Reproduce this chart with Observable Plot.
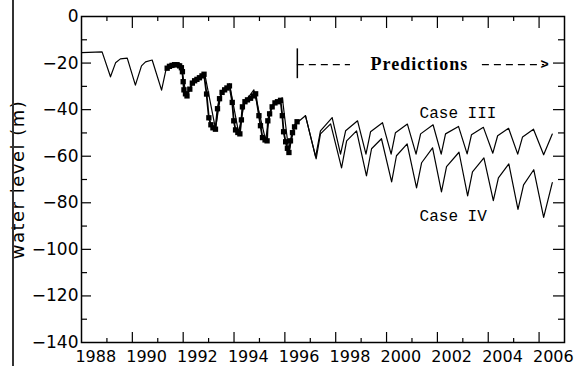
<!DOCTYPE html>
<html><head><meta charset="utf-8">
<script src="https://cdn.jsdelivr.net/npm/d3@7"></script>
<script src="https://cdn.jsdelivr.net/npm/@observablehq/plot@0.6"></script>
<style>
body{margin:0;background:#fff;}
#wrap{position:relative;width:574px;height:366px;overflow:hidden;}
#scanline{position:absolute;left:12px;top:0;width:2px;height:366px;background:#333;}
</style></head><body>
<div id="wrap"><div id="chart"></div><div id="scanline"></div></div>
<script>
// simulated history (shared by both cases until predictions start)
const simYears = [1987.40, 1988.21, 1988.54, 1988.74, 1988.93, 1989.20, 1989.52, 1989.76, 1989.92, 1990.18, 1990.55, 1990.74, 1990.90, 1991.29, 1991.53, 1991.77, 1992.24, 1992.67, 1992.87, 1993.22, 1993.58, 1993.81, 1994.18, 1994.64, 1994.87, 1995.30, 1995.56, 1995.78, 1996.21];
const simLevels = [-15.5, -15.2, -25.9, -19.9, -18.2, -17.9, -29.5, -21.2, -19.5, -18.7, -31.6, -22.0, -20.7, -20.3, -34.1, -28.5, -24.2, -48.2, -34.1, -28.9, -49.9, -37.1, -31.5, -53.0, -38.4, -34.9, -58.4, -46.5, -42.6];

// observed water levels (squares)
const obsYears = [1990.77, 1990.86, 1990.96, 1991.06, 1991.16, 1991.26, 1991.33, 1991.37, 1991.40, 1991.43,
  1991.49, 1991.55, 1991.66, 1991.76, 1991.85, 1991.94, 1992.04, 1992.14, 1992.22, 1992.32,
  1992.41, 1992.49, 1992.57, 1992.67, 1992.75, 1992.83, 1992.93, 1993.03, 1993.12, 1993.22,
  1993.33, 1993.39, 1993.46, 1993.55, 1993.63, 1993.69, 1993.73, 1993.83, 1993.93, 1994.05,
  1994.17, 1994.25, 1994.38, 1994.44, 1994.52, 1994.62, 1994.70, 1994.73, 1994.80, 1994.90,
  1995.01, 1995.11, 1995.23, 1995.30, 1995.35, 1995.43, 1995.50, 1995.56, 1995.62, 1995.70,
  1995.78, 1995.88];
const obsLevels = [-22.2, -21.4, -21.0, -20.7, -20.7, -21.2, -22.0, -23.7, -28.0, -31.5,
  -33.2, -34.1, -31.2, -28.6, -27.6, -27.0, -26.3, -25.5, -24.8, -33.3,
  -43.5, -46.5, -47.8, -48.4, -39.6, -35.3, -32.6, -31.5, -30.7, -29.8,
  -36.9, -44.8, -48.7, -49.8, -50.4, -44.4, -38.8, -36.6, -35.8, -35.1,
  -34.1, -33.2, -42.6, -46.9, -52.0, -53.0, -53.4, -44.8, -41.8, -38.8,
  -37.1, -36.6, -36.0, -42.6, -49.5, -53.8, -56.6, -58.4, -53.4, -49.9,
  -47.4, -45.2];

// predictions
const case3Years = [1996.21, 1996.61, 1996.80, 1997.26, 1997.59, 1997.79, 1998.26, 1998.59, 1998.77, 1999.24, 1999.58, 1999.75, 2000.22, 2000.56, 2000.74, 2001.23, 2001.55, 2001.72, 2002.23, 2002.57, 2002.74, 2003.21, 2003.58, 2003.77, 2004.20, 2004.56, 2004.75, 2005.18, 2005.58, 2005.92];
const case3Levels = [-42.6, -60.3, -49.1, -43.4, -59.1, -49.1, -44.8, -59.1, -49.5, -45.6, -59.1, -49.9, -46.2, -59.1, -50.4, -46.5, -59.1, -50.4, -47.2, -59.0, -50.8, -47.6, -58.7, -51.2, -48.0, -59.1, -51.7, -48.4, -59.4, -50.5];
const case4Years = [1996.21, 1996.63, 1996.80, 1997.20, 1997.63, 1997.83, 1998.22, 1998.61, 1998.81, 1999.20, 1999.60, 1999.79, 2000.21, 2000.58, 2000.78, 2001.21, 2001.56, 2001.76, 2002.25, 2002.59, 2002.78, 2003.23, 2003.60, 2003.80, 2004.21, 2004.57, 2004.79, 2005.19, 2005.58, 2005.92];
const case4Levels = [-42.6, -61.1, -50.4, -46.1, -65.0, -53.4, -49.1, -68.4, -56.8, -52.5, -71.0, -59.8, -54.7, -73.6, -62.8, -56.4, -75.3, -64.5, -58.3, -77.0, -66.7, -60.7, -79.1, -69.3, -63.3, -82.8, -72.3, -65.8, -86.3, -71.3];

// axes
const xTickLabels = [1988, 1990, 1992, 1994, 1996, 1998, 2000, 2002, 2004, 2006];
const xTickYears = d3.range(1988, 2006);
const xTickShift = 0.4;
const yTickLabels = [0, -20, -40, -60, -80, -100, -120, -140];
const yTickValues = d3.range(-140, 1, 10);

// annotation anchors
const predStart = 1995.89, annotLevel = -20.7, barTop = -13.9, barBottom = -26.7;
const leftDashEnd = 1997.98, predTextYear = 1998.77, rightDashStart = 2003.17, arrowYear = 2005.62;
const caseTextYear = 2000.7, case3TextLevel = -41.3, case4TextLevel = -85.6;

const zip = (xs, ys) => xs.map((x, i) => ({x, y: ys[i]}));
const sim = zip(simYears, simLevels);
const obs = zip(obsYears, obsLevels);
const c3 = zip(case3Years, case3Levels);
const c4 = zip(case4Years, case4Levels);

const W = 574, H = 366, mL = 81, mR = 10, mT = 16, mB = 24;
const fw = W - mL - mR, fh = H - mT - mB;
const majX = xTickYears.filter(d => d % 2 === 1).map(d => d + xTickShift);
const minX = xTickYears.filter(d => d % 2 === 0).map(d => d + xTickShift);
const majY = yTickValues.filter(d => d % 20 === 0 && d > -140 && d < 0);
const minY = yTickValues.filter(d => d % 20 !== 0);
const numFont = "DejaVu Sans";

const chart = Plot.plot({
  width: W, height: H,
  marginLeft: mL, marginRight: mR, marginTop: mT, marginBottom: mB,
  x: {domain: [1987.4, 2006.4], axis: null},
  y: {domain: [-140, 0], axis: null},
  style: {background: "white", color: "black", overflow: "visible"},
  marks: [
    // ticks
    Plot.tickX(majX, {x: d => d, insetTop: fh - 10, strokeWidth: 1.2}),
    Plot.tickX(minX, {x: d => d, insetTop: fh - 4, strokeWidth: 1.2}),
    Plot.tickX(majX, {x: d => d, insetBottom: fh - 12, strokeWidth: 1.2}),
    Plot.tickX(minX, {x: d => d, insetBottom: fh - 5, strokeWidth: 1.2}),
    Plot.tickY(majY, {y: d => d, insetRight: fw - 10, strokeWidth: 1.2}),
    Plot.tickY(minY, {y: d => d, insetRight: fw - 6, strokeWidth: 1.2}),
    Plot.tickY(majY, {y: d => d, insetLeft: fw - 11, strokeWidth: 1.2}),
    Plot.tickY(minY, {y: d => d, insetLeft: fw - 6, strokeWidth: 1.2}),
    Plot.frame({stroke: "black", strokeWidth: 1.5}),
    // tick labels
    Plot.text(xTickLabels, {x: d => d, text: d => String(d), frameAnchor: "bottom", lineAnchor: "middle", dy: 14, dx: -1, fontSize: 16, fontFamily: numFont, fill: "black"}),
    Plot.text(yTickLabels, {y: d => d, frameAnchor: "left", dx: -3, textAnchor: "end", lineAnchor: "middle", fontSize: 17, fontFamily: numFont, fill: "black",
      text: d => d === 0 ? "0" : "\u2212" + (-d)}),
    Plot.text(["water level (m)"], {frameAnchor: "left", textAnchor: "middle", lineAnchor: "middle", dx: -63, rotate: -90, fontSize: 18, fontFamily: numFont, fill: "black"}),
    // series
    Plot.line(sim, {x: "x", y: "y", stroke: "black", strokeWidth: 1.2}),
    Plot.line(c3, {x: "x", y: "y", stroke: "black", strokeWidth: 1.2}),
    Plot.line(c4, {x: "x", y: "y", stroke: "black", strokeWidth: 1.2}),
    Plot.line(obs, {x: "x", y: "y", stroke: "black", strokeWidth: 1.8}),
    Plot.dot(obs, {x: "x", y: "y", symbol: "square", r: 3, fill: "black", stroke: "none"}),
    // annotations
    Plot.ruleX([predStart], {y1: barTop, y2: barBottom, stroke: "black", strokeWidth: 1.5}),
    Plot.ruleY([annotLevel], {x1: predStart, x2: leftDashEnd, stroke: "black", strokeWidth: 1.2, strokeDasharray: "7,5"}),
    Plot.ruleY([annotLevel], {x1: rightDashStart, x2: arrowYear, stroke: "black", strokeWidth: 1.2, strokeDasharray: "7,5"}),
    Plot.text([">"], {x: arrowYear, y: annotLevel, fontSize: 14, fontWeight: "bold", fontFamily: "Liberation Sans", fill: "black"}),
    Plot.text(["Predictions"], {x: predTextYear, y: annotLevel, textAnchor: "start", fontSize: 18, fontWeight: "bold", fontFamily: "Liberation Serif", fill: "black"}),
    Plot.text(["Case III"], {x: caseTextYear, y: case3TextLevel, textAnchor: "start", fontSize: 16, fontFamily: "Liberation Mono", fill: "black"}),
    Plot.text(["Case IV"], {x: caseTextYear, y: case4TextLevel, textAnchor: "start", fontSize: 16, fontFamily: "Liberation Mono", fill: "black"})
  ]
});
document.getElementById("chart").appendChild(chart);
d3.select(chart).selectAll("text").each(function() {
  const t = this.textContent;
  if (t === "Predictions") this.setAttribute("letter-spacing", "1px");
  if (t === "water level (m)") this.setAttribute("letter-spacing", "1.5px");
});
</script>
</body></html>
